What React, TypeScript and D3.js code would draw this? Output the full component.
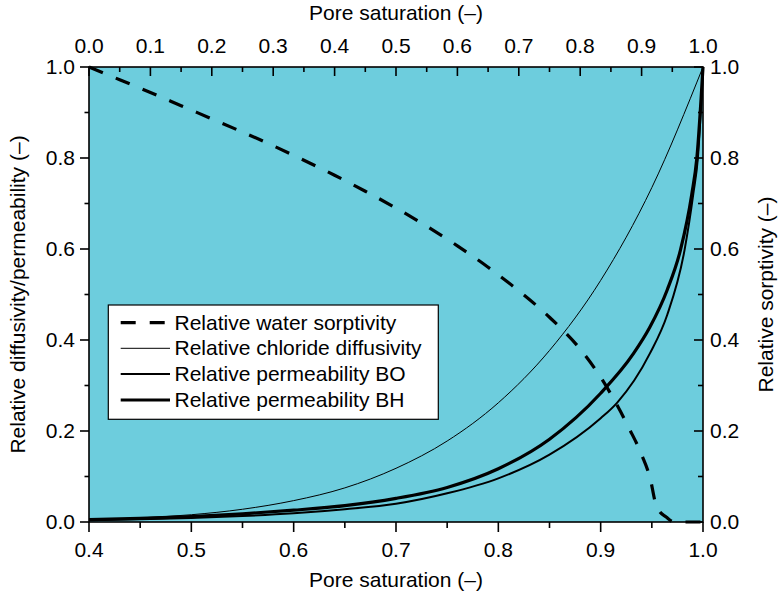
import React from "react";
import * as d3 from "d3";

// Pore saturation grid (bottom axis, 0.4–1.0) and relative transport properties
const chlorideSat = [0.4, 0.45, 0.5, 0.55, 0.6, 0.65, 0.7, 0.75, 0.8, 0.85, 0.9, 0.95, 1.0];
const chlorideDiffusivity = [0.005, 0.009, 0.016, 0.028, 0.047, 0.075, 0.118, 0.178, 0.262, 0.377, 0.531, 0.735, 1.0];

const bhSat = [0.4, 0.45, 0.5, 0.55, 0.6, 0.65, 0.7, 0.75, 0.8, 0.85, 0.9, 0.932, 0.948, 0.965, 0.978, 0.989, 0.994, 1.0];
const permeabilityBH = [0.005, 0.008, 0.012, 0.018, 0.026, 0.036, 0.052, 0.076, 0.117, 0.182, 0.283, 0.37, 0.428, 0.51, 0.598, 0.72, 0.8, 1.0];

const boSat = [0.4, 0.45, 0.5, 0.55, 0.6, 0.65, 0.7, 0.75, 0.8, 0.85, 0.9, 0.916, 0.948, 0.965, 0.982, 0.9906, 0.995, 1.0];
const permeabilityBO = [0.004, 0.006, 0.009, 0.013, 0.019, 0.028, 0.04, 0.063, 0.096, 0.148, 0.228, 0.262, 0.37, 0.455, 0.598, 0.722, 0.8, 1.0];

// Relative water sorptivity vs pore saturation (top axis, 0–1; right axis)
const sorptivitySat = [0, 0.05, 0.1, 0.15, 0.2, 0.25, 0.3, 0.35, 0.4, 0.45, 0.5, 0.55, 0.6, 0.65, 0.7, 0.75, 0.8, 0.83, 0.86, 0.88, 0.9, 0.915, 0.922, 0.928, 0.94, 0.953, 0.975, 1.0];
const waterSorptivity = [1.0, 0.972, 0.944, 0.915, 0.886, 0.857, 0.827, 0.795, 0.762, 0.727, 0.69, 0.65, 0.607, 0.56, 0.508, 0.45, 0.38, 0.325, 0.257, 0.205, 0.148, 0.09, 0.045, 0.026, 0.011, 0, 0, 0];

const bottomTicks = [0.4, 0.5, 0.6, 0.7, 0.8, 0.9, 1.0];
const bottomMinor = [0.45, 0.55, 0.65, 0.75, 0.85, 0.95];
const topTicks = [0, 0.1, 0.2, 0.3, 0.4, 0.5, 0.6, 0.7, 0.8, 0.9, 1.0];
const topMinor = [0.05, 0.15, 0.25, 0.35, 0.45, 0.55, 0.65, 0.75, 0.85, 0.95];
const yTicks = [0, 0.2, 0.4, 0.6, 0.8, 1.0];
const yMinor = [0.1, 0.3, 0.5, 0.7, 0.9];

const legendLabels = [
  "Relative water sorptivity",
  "Relative chloride diffusivity",
  "Relative permeability BO",
  "Relative permeability BH",
];

const FONT = "'Liberation Sans', Arial, Helvetica, sans-serif";
const FS = 21;

export default function App() {
  const W = 778;
  const H = 595;
  const L = 89, R = 703, T = 67, B = 522;

  const xB = d3.scaleLinear().domain([0.4, 1.0]).range([L, R]);
  const xT = d3.scaleLinear().domain([0, 1]).range([L, R]);
  const yL = d3.scaleLinear().domain([0, 1]).range([B, T]);
  const yR = d3.scaleLinear().domain([0, 1]).range([B, T]);

  const mk = (xs: number[], ys: number[], xs_: d3.ScaleLinear<number, number>, ys_: d3.ScaleLinear<number, number>) =>
    d3
      .line<number>()
      .x((_, i) => xs_(xs[i]))
      .y((d) => ys_(d))
      .curve(d3.curveMonotoneX)(ys) as string;

  const chloridePath = mk(chlorideSat, chlorideDiffusivity, xB, yL);
  const bhPath = mk(bhSat, permeabilityBH, xB, yL);
  const boPath = mk(boSat, permeabilityBO, xB, yL);
  const sorpPath = mk(sorptivitySat, waterSorptivity, xT, yR);

  const fmt = d3.format(".1f");
  const dash = "15 14";

  const legendStyles = [
    { w: 3.2, dash },
    { w: 1, dash: undefined },
    { w: 2, dash: undefined },
    { w: 3.2, dash: undefined },
  ];
  const legendRowY = [322.7, 348.3, 374, 400];

  return (
    <svg
      width={W}
      height={H}
      style={{ position: "absolute", left: 0, top: 0, background: "#fff" }}
      fontFamily={FONT}
    >
      <defs>
        <clipPath id="plotClip">
          <rect x={L} y={T - 2} width={R - L + 2} height={B - T + 4} />
        </clipPath>
      </defs>
      <rect x={L} y={T} width={R - L} height={B - T} fill="#6dcddd" />

      <g clipPath="url(#plotClip)" fill="none" stroke="#000" strokeLinejoin="round">
        <path d={chloridePath} strokeWidth={1} />
        <path d={boPath} strokeWidth={2} />
        <path d={bhPath} strokeWidth={3.2} />
        <path d={sorpPath} strokeWidth={3.2} strokeDasharray={dash} />
      </g>

      {/* frame */}
      <rect x={L} y={T} width={R - L} height={B - T} fill="none" stroke="#000" strokeWidth={1.6} />

      {/* bottom axis: ticks outward */}
      <g stroke="#000" strokeWidth={1.6}>
        {bottomTicks.map((t) => (
          <line key={"bt" + t} x1={xB(t)} x2={xB(t)} y1={B} y2={B + 10} />
        ))}
        {bottomMinor.map((t) => (
          <line key={"bm" + t} x1={xB(t)} x2={xB(t)} y1={B} y2={B + 6} />
        ))}
        {/* top axis: ticks inward */}
        {topTicks.map((t) => (
          <line key={"tt" + t} x1={xT(t)} x2={xT(t)} y1={T} y2={T + 9} />
        ))}
        {topMinor.map((t) => (
          <line key={"tm" + t} x1={xT(t)} x2={xT(t)} y1={T} y2={T + 5} />
        ))}
        {/* left axis: ticks outward */}
        {yTicks.map((t) => (
          <line key={"lt" + t} x1={L - 9} x2={L} y1={yL(t)} y2={yL(t)} />
        ))}
        {yMinor.map((t) => (
          <line key={"lm" + t} x1={L - 4.5} x2={L} y1={yL(t)} y2={yL(t)} />
        ))}
        {/* right axis: ticks inward */}
        {yTicks.map((t) => (
          <line key={"rt" + t} x1={R - 9} x2={R} y1={yR(t)} y2={yR(t)} />
        ))}
        {yMinor.map((t) => (
          <line key={"rm" + t} x1={R - 5} x2={R} y1={yR(t)} y2={yR(t)} />
        ))}
      </g>

      <g fontSize={FS} fill="#000">
        {bottomTicks.map((t) => (
          <text key={"btl" + t} x={xB(t)} y={556.5} textAnchor="middle">
            {fmt(t)}
          </text>
        ))}
        {topTicks.map((t) => (
          <text key={"ttl" + t} x={xT(t)} y={53.3} textAnchor="middle">
            {fmt(t)}
          </text>
        ))}
        {yTicks.map((t) => (
          <text key={"ltl" + t} x={75} y={yL(t)} dy="0.35em" textAnchor="end">
            {fmt(t)}
          </text>
        ))}
        {yTicks.map((t) => (
          <text key={"rtl" + t} x={710} y={yR(t)} dy="0.35em" textAnchor="start">
            {fmt(t)}
          </text>
        ))}

        <text x={(L + R) / 2} y={587} textAnchor="middle">
          Pore saturation (–)
        </text>
        <text x={(L + R) / 2} y={20} textAnchor="middle">
          Pore saturation (–)
        </text>
        <text transform={`translate(25,${(T + B) / 2}) rotate(-90)`} textAnchor="middle">
          Relative diffusivity/permeability (–)
        </text>
        <text transform={`translate(773,${(T + B) / 2}) rotate(-90)`} textAnchor="middle">
          Relative sorptivity (–)
        </text>
      </g>

      {/* legend */}
      <g>
        <rect x={108.3} y={305} width={330} height={114.3} fill="#fff" stroke="#000" strokeWidth={1.2} />
        {legendLabels.map((lab, i) => (
          <g key={lab}>
            <line
              x1={120.7}
              x2={170}
              y1={legendRowY[i]}
              y2={legendRowY[i]}
              stroke="#000"
              strokeWidth={legendStyles[i].w}
              strokeDasharray={legendStyles[i].dash}
            />
            <text x={174.5} y={legendRowY[i] + 6.8} fontSize={FS} fill="#000">
              {lab}
            </text>
          </g>
        ))}
      </g>
    </svg>
  );
}
